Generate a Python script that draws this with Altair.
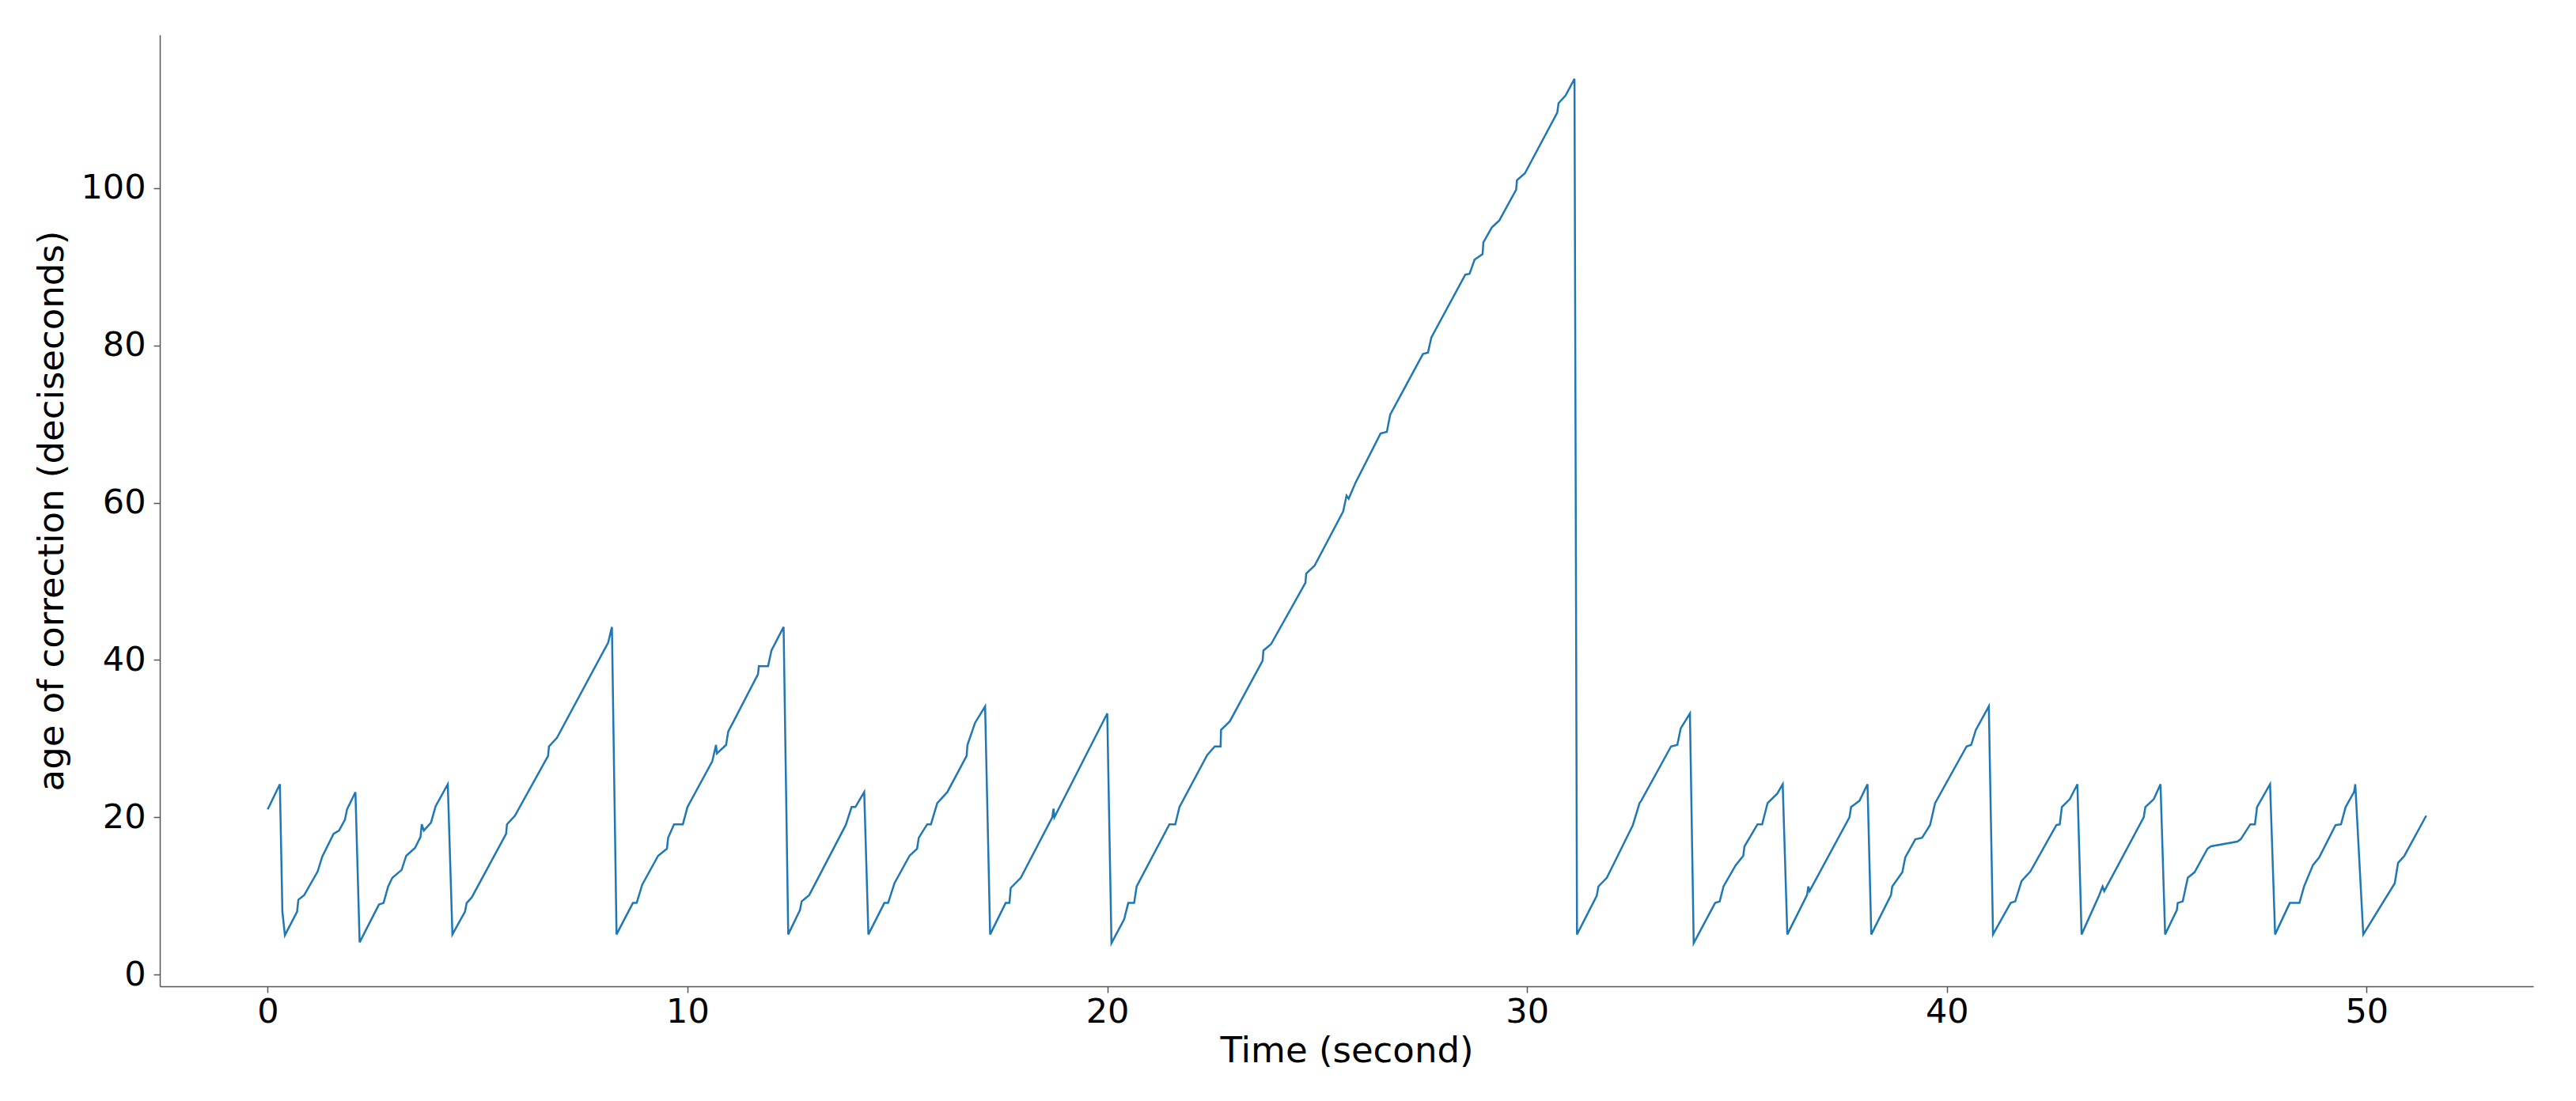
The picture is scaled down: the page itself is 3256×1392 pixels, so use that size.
import altair as alt
import pandas as pd

time_s = [
    0.0, 0.29, 0.35, 0.41, 0.70, 0.73, 0.87, 1.19, 1.30, 1.57, 1.70, 1.84, 1.89, 2.09,
    2.19, 2.65, 2.76, 2.87, 2.97, 3.19, 3.30, 3.51, 3.64, 3.67, 3.72, 3.89, 4.00, 4.29,
    4.40, 4.70, 4.74, 4.86, 5.68, 5.70, 5.89, 6.68, 6.70, 6.89, 8.11, 8.20,
    8.31, 8.70, 8.79, 8.92, 9.30, 9.51, 9.54, 9.68, 9.89, 10.0, 10.59, 10.68, 10.70,
    10.92, 10.97, 11.08, 11.68, 11.70, 11.92, 12.0, 12.29,
    12.40, 12.68, 12.72, 12.90, 13.77, 13.91, 14.0, 14.21,
    14.31, 14.69, 14.78, 14.93, 15.29, 15.47, 15.51, 15.71, 15.80, 15.95, 16.19, 16.65,
    16.67, 16.85, 17.09,
    17.21, 17.58, 17.67, 17.70, 17.94, 18.69, 18.72, 18.74, 20.0,
    20.04, 20.10, 20.40, 20.50, 20.64, 20.70, 21.48, 21.62, 21.72, 22.38, 22.56, 22.70,
    22.71, 22.92, 23.70, 23.72, 23.90,
    24.72, 24.74, 24.94, 25.62, 25.70, 25.75, 25.91, 26.51, 26.66, 26.74, 27.52, 27.64,
    27.72, 28.53, 28.63, 28.75, 28.94, 28.96, 29.16, 29.34, 29.74, 29.76, 29.95, 30.72,
    30.75, 30.92, 31.13,
    31.19, 31.66, 31.70, 31.90, 32.52, 32.68, 32.72, 33.43, 33.58, 33.66, 33.88,
    33.97, 34.48, 34.59, 34.68, 34.97, 35.15, 35.18, 35.49, 35.60, 35.73, 35.96, 36.09,
    36.20, 36.67, 36.70, 36.73, 37.68, 37.72, 37.92, 38.11,
    38.20, 38.67, 38.70, 38.94, 39.01, 39.25, 39.41, 39.60, 39.72, 40.47, 40.58, 40.69, 41.0,
    41.10, 41.52, 41.63, 41.78, 41.99, 42.61, 42.69, 42.74, 42.93, 43.11,
    43.21, 43.63, 43.71, 43.75, 44.69, 44.73, 44.93, 45.09,
    45.20, 45.48, 45.50, 45.62, 45.74, 45.90, 46.21, 46.29, 46.92, 47.0, 47.23, 47.34,
    47.39, 47.70,
    47.82, 48.17, 48.40, 48.51, 48.72, 48.87, 49.26, 49.39, 49.50, 49.70, 49.73,
    49.92, 50.67, 50.75, 50.90, 51.42,
]

age_ds = [
    21.0, 24.2, 8.0, 5.0, 8.0, 9.5, 10.1, 13.1, 15.0, 17.9, 18.3, 19.7, 21.0, 23.2,
    4.1, 8.9, 9.1, 11.2, 12.3, 13.3, 15.1, 16.1, 17.5, 19.1, 18.3, 19.3, 21.4, 24.2,
    5.1, 8.0, 9.1, 9.8, 17.9, 19.1, 20.2, 27.8, 29.0, 30.1, 42.2, 44.2,
    5.1, 9.1, 9.1, 11.4, 15.1, 16.0, 17.4, 19.1, 19.1, 21.3, 27.1, 29.2, 28.1,
    29.2, 30.9, 32.0, 38.2, 39.2, 39.2, 41.2, 44.2,
    5.1, 8.2, 9.3, 10.1, 19.0, 21.3, 21.3, 23.2,
    5.1, 9.1, 9.1, 11.6, 15.1, 16.0, 17.4, 19.1, 19.1, 21.8, 23.2, 27.8,
    29.2, 32.0, 34.1,
    5.1, 9.1, 9.1, 11.0, 12.3, 20.0, 21.1, 20.0, 33.2,
    21.4, 4.0, 7.0, 9.1, 9.1, 11.2, 19.1, 19.1, 21.3, 27.9, 29.0, 29.0,
    31.1, 32.2, 39.9, 41.2, 42.0,
    49.8, 51.0, 52.0, 58.9, 60.9, 60.5, 62.5, 68.8, 69.0, 71.2, 78.9, 79.1,
    81.0, 89.0, 89.1, 90.9, 91.6, 93.1, 95.0, 95.9, 99.8, 101.0, 101.9, 109.6,
    110.8, 111.8, 113.9,
    5.1, 10.0, 11.2, 12.3, 19.0, 21.8, 22.1, 29.0, 29.2, 31.3, 33.2,
    4.0, 9.1, 9.3, 11.2, 13.9, 15.1, 16.3, 19.1, 19.1, 21.8, 23.0, 24.2,
    5.1, 10.1, 11.2, 10.6, 20.0, 21.3, 22.1, 24.2,
    5.1, 10.1, 11.2, 13.0, 14.9, 17.2, 17.4, 19.0, 21.8, 29.0, 29.2, 31.1, 34.1,
    5.1, 9.1, 9.3, 11.9, 13.1, 19.0, 19.1, 21.3, 22.3, 24.2,
    5.1, 10.1, 11.2, 10.6, 20.0, 21.3, 22.3, 24.2,
    5.1, 8.2, 9.1, 9.3, 12.3, 13.0, 16.0, 16.3, 16.9, 17.2, 19.1, 19.1,
    21.3, 24.2,
    5.1, 9.1, 9.1, 11.2, 13.9, 14.9, 19.0, 19.1, 21.3, 23.2, 24.2,
    5.1, 11.6, 14.2, 15.1, 20.2,
]

x_ticks = [0, 10, 20, 30, 40, 50]
y_ticks = [0, 20, 40, 60, 80, 100]

df = pd.DataFrame({"t": time_s, "age": age_ds, "i": list(range(len(time_s)))})

chart = (
    alt.Chart(df)
    .mark_line(color="#1f77b4", strokeWidth=2.5)
    .encode(
        x=alt.X(
            "t:Q",
            scale=alt.Scale(domain=[-2.57, 53.97], nice=False, zero=False),
            axis=alt.Axis(
                title="Time (second)",
                values=x_ticks,
                labelPadding=3,
                titlePadding=5,
            ),
        ),
        y=alt.Y(
            "age:Q",
            scale=alt.Scale(domain=[-1.5, 119.5], nice=False, zero=False),
            axis=alt.Axis(
                title="age of correction (deciseconds)",
                values=y_ticks,
                labelPadding=10,
                titlePadding=13,
            ),
        ),
        order="i:Q",
    )
    .properties(
        width=3000,
        height=1203,
        autosize=alt.AutoSizeParams(type="none"),
        padding={"left": 194, "top": 36, "right": 40, "bottom": 130},
    )
    .configure_view(stroke=None)
    .configure_axis(
        grid=False,
        domainColor="#555555",
        domainWidth=1.5,
        tickColor="#555555",
        tickWidth=1.5,
        tickSize=8,
        labelFont="DejaVu Sans",
        labelFontSize=43,
        labelColor="#000000",
        titleFont="DejaVu Sans",
        titleFontSize=45,
        titleFontWeight="normal",
        titleColor="#000000",
    )
)

chart.save("out.html", embed_options={"renderer": "svg", "actions": False})
